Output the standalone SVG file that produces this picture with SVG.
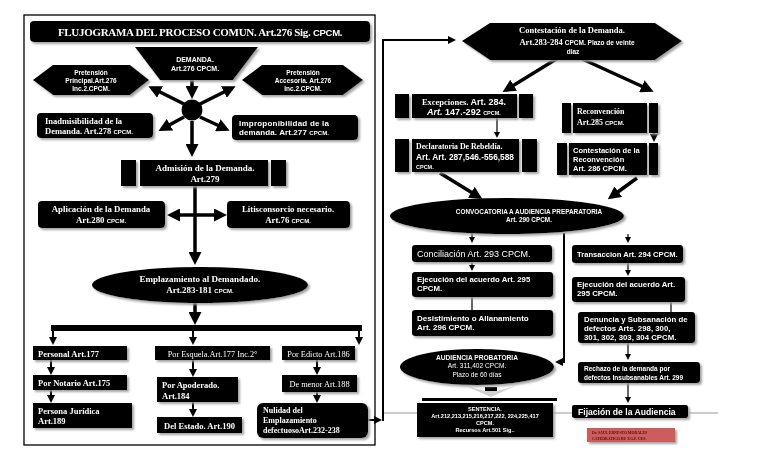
<svg xmlns="http://www.w3.org/2000/svg" width="768" height="466" viewBox="0 0 768 466">
<style>
.b{fill:#000}
.t{fill:#fff;font-family:"Liberation Serif","Times New Roman",serif;font-weight:bold}
.tn{fill:#fff;font-family:"Liberation Serif","Times New Roman",serif}
.s{fill:#fff;font-family:"Liberation Sans",Arial,sans-serif;font-weight:bold}
.sn{fill:#fff;font-family:"Liberation Sans",Arial,sans-serif}
.c{text-anchor:middle}
.sm{font-family:"Liberation Sans",Arial,sans-serif;font-weight:bold;font-size:6px}
.k{stroke:#000;stroke-width:3.5;fill:none}
.m{stroke:#000;stroke-width:2;fill:none}
.n{stroke:#000;stroke-width:1.2;fill:none}
.g{stroke:#999;stroke-width:1;fill:none}
</style>
<defs>
<filter id="sh" x="-10%" y="-20%" width="130%" height="150%">
<feDropShadow dx="2" dy="2" stdDeviation="0.8" flood-color="#9a9a9a" flood-opacity="0.9"/>
</filter>
<marker id="ak" markerUnits="userSpaceOnUse" markerWidth="13" markerHeight="13" refX="9" refY="6.5" orient="auto-start-reverse"><path d="M0,0 L13,6.5 L0,13 z" fill="#000"/></marker>
<marker id="am" markerUnits="userSpaceOnUse" markerWidth="8" markerHeight="8" refX="5" refY="4" orient="auto"><path d="M0,0 L8,4 L0,8 z" fill="#000"/></marker>
<marker id="an" markerUnits="userSpaceOnUse" markerWidth="6" markerHeight="6" refX="4" refY="3" orient="auto"><path d="M0,0 L6,3 L0,6 z" fill="#000"/></marker>
</defs>
<rect width="768" height="466" fill="#fff"/>
<rect x="24" y="15" width="351" height="430" fill="none" stroke="#000" stroke-width="1.3"/>
<line class="g" x1="384" y1="413" x2="718" y2="413"/>

<g id="connectors">
<line class="k" x1="192" y1="80" x2="192" y2="95" marker-end="url(#ak)"/>
<line class="k" x1="184" y1="104" x2="152" y2="88" marker-end="url(#ak)"/>
<line class="k" x1="200" y1="104" x2="232" y2="88" marker-end="url(#ak)"/>
<line class="k" x1="184" y1="117" x2="162" y2="129" marker-end="url(#ak)"/>
<line class="k" x1="200" y1="117" x2="226" y2="129" marker-end="url(#ak)"/>
<line class="k" x1="192" y1="121" x2="192" y2="153" marker-end="url(#ak)"/>
<line class="k" x1="195" y1="186" x2="195" y2="261" marker-end="url(#ak)"/>
<line class="k" x1="171" y1="215" x2="223" y2="215" marker-start="url(#ak)" marker-end="url(#ak)"/>
<line class="k" x1="195" y1="303" x2="195" y2="321" marker-end="url(#ak)"/>
<rect x="51" y="325" width="311" height="6" fill="#000"/>
<line class="m" x1="53" y1="331" x2="53" y2="342" marker-end="url(#am)"/>
<line class="m" x1="193" y1="331" x2="193" y2="342" marker-end="url(#am)"/>
<line class="m" x1="359" y1="331" x2="359" y2="342" marker-end="url(#am)"/>
<line class="m" x1="51" y1="360" x2="51" y2="372" marker-end="url(#am)"/>
<line class="m" x1="51" y1="390" x2="51" y2="400" marker-end="url(#am)"/>
<line class="m" x1="193" y1="360" x2="193" y2="374" marker-end="url(#am)"/>
<line class="m" x1="193" y1="402" x2="193" y2="414" marker-end="url(#am)"/>
<line class="m" x1="317" y1="360" x2="317" y2="372" marker-end="url(#am)"/>
<line class="m" x1="317" y1="392" x2="317" y2="400" marker-end="url(#am)"/>
<line class="m" x1="368" y1="420" x2="379" y2="420" marker-end="url(#am)"/>
<polyline class="m" points="383,421 383,40 453,40" marker-end="url(#am)"/>
<line class="k" x1="558" y1="58" x2="506" y2="90" marker-end="url(#ak)"/>
<line class="k" x1="580" y1="58" x2="650" y2="90" marker-end="url(#ak)"/>
<line class="n" x1="497" y1="118" x2="497" y2="136" marker-end="url(#an)"/>
<line class="m" x1="654" y1="133" x2="654" y2="139" marker-end="url(#am)"/>
<line class="k" x1="440" y1="173" x2="479" y2="197" marker-end="url(#ak)"/>
<line class="k" x1="637" y1="178" x2="611" y2="197" marker-end="url(#ak)"/>
<line class="n" x1="472" y1="233" x2="472" y2="241" marker-end="url(#an)"/>
<line class="n" x1="628" y1="234" x2="628" y2="241" marker-end="url(#an)"/>
<polyline class="m" points="564,233 564,362 558,362" marker-end="url(#am)"/>
<line class="n" x1="472" y1="262" x2="472" y2="269" marker-end="url(#an)"/>
<line class="n" x1="472" y1="297" x2="472" y2="310"/>
<line class="n" x1="628" y1="263" x2="628" y2="274" marker-end="url(#an)"/>
<line class="n" x1="671" y1="302" x2="671" y2="312"/>
<line class="n" x1="628" y1="343" x2="628" y2="358" marker-end="url(#an)"/>
<line class="n" x1="628" y1="383" x2="628" y2="401" marker-end="url(#an)"/>
<rect x="485" y="387" width="12" height="5" fill="#000"/>
<polygon points="466,386 485,391 497,391 515,386 491,397" fill="#d0d0d0"/>
<rect x="422" y="398" width="135" height="3" fill="#000"/>
</g>

<g id="titulo" filter="url(#sh)">
<rect class="b" x="30" y="21" width="340" height="21" rx="4"/>
<text class="t c" x="200" y="36" font-size="11" letter-spacing="-0.3">FLUJOGRAMA DEL PROCESO COMUN. Art.276 Sig. <tspan font-family="Liberation Sans,Arial,sans-serif" font-size="9.5">CPCM.</tspan></text>
</g>
<g id="demanda" filter="url(#sh)">
<polygon class="b" points="135,47 258,47 233,80 160,80"/>
<text class="s c" x="195" y="62" font-size="7">DEMANDA.</text>
<text class="s c" x="195" y="71" font-size="7">Art.276 CPCM.</text>
</g>
<g id="pretension-principal" filter="url(#sh)">
<polygon class="b" points="33,80 53,65 130,65 149,80 130,95 53,95"/>
<text class="s c" x="91" y="75" font-size="6.5">Pretensión</text>
<text class="s c" x="91" y="83" font-size="6.5">Principal.Art.276</text>
<text class="s c" x="91" y="91" font-size="6.5">Inc.2.CPCM.</text>
</g>
<g id="pretension-accesoria" filter="url(#sh)">
<polygon class="b" points="242,80 262,65 343,65 363,80 343,95 262,95"/>
<text class="s c" x="303" y="75" font-size="6.5">Pretensión</text>
<text class="s c" x="303" y="83" font-size="6.5">Accesoria. Art.276</text>
<text class="s c" x="303" y="91" font-size="6.5">Inc.2.CPCM.</text>
</g>
<g id="nodo-central">
<circle cx="192" cy="110" r="10.5" fill="#000"/>
</g>
<g id="inadmisibilidad" filter="url(#sh)">
<rect class="b" x="37" y="113" width="116" height="25" rx="4"/>
<text class="t" x="45" y="123.5" font-size="8.5">Inadmisibilidad de la</text>
<text class="t" x="45" y="133.5" font-size="8.5">Demanda. Art.278 <tspan class="sm">CPCM.</tspan></text>
</g>
<g id="improponibilidad" filter="url(#sh)">
<rect class="b" x="232" y="115" width="126" height="25" rx="4"/>
<text class="s" x="239" y="125.5" font-size="8" textLength="90">Improponibilidad de la</text>
<text class="s" x="239" y="134.5" font-size="8" textLength="90">demanda. Art.277 <tspan font-size="6">CPCM.</tspan></text>
</g>
<g id="admision" filter="url(#sh)">
<rect class="b" x="121" y="160" width="15" height="26"/>
<rect class="b" x="140" y="160" width="128" height="26"/>
<rect class="b" x="271" y="160" width="15" height="26"/>
<text class="t c" x="205" y="171" font-size="9">Admisión de la Demanda.</text>
<text class="t c" x="205" y="182" font-size="9">Art.279</text>
</g>
<g id="aplicacion" filter="url(#sh)">
<rect class="b" x="38" y="201" width="127" height="27" rx="4"/>
<text class="t c" x="101" y="212" font-size="8.8">Aplicación de la Demanda</text>
<text class="t c" x="101" y="223" font-size="8.8">Art.280 <tspan class="sm">CPCM.</tspan></text>
</g>
<g id="litisconsorcio" filter="url(#sh)">
<rect class="b" x="227" y="201" width="123" height="27" rx="4"/>
<text class="t c" x="288" y="212" font-size="8.8">Litisconsorcio necesario.</text>
<text class="t c" x="288" y="223" font-size="8.8">Art.76 <tspan class="sm">CPCM.</tspan></text>
</g>
<g id="emplazamiento" filter="url(#sh)">
<ellipse cx="200" cy="285" rx="108" ry="18" fill="#000"/>
<text class="t c" x="200" y="282" font-size="9">Emplazamiento al Demandado.</text>
<text class="t c" x="200" y="293" font-size="9">Art.283-181 <tspan class="sm">CPCM.</tspan></text>
</g>
<g id="personal" filter="url(#sh)">
<rect class="b" x="33" y="346" width="94" height="14"/>
<text class="t" x="38" y="356.5" font-size="8.5">Personal Art.177</text>
</g>
<g id="notario" filter="url(#sh)">
<rect class="b" x="33" y="375" width="94" height="15"/>
<text class="t" x="38" y="386" font-size="8.5">Por Notario Art.175</text>
</g>
<g id="persona-juridica" filter="url(#sh)">
<rect class="b" x="33" y="403" width="99" height="25"/>
<text class="t" x="38" y="414" font-size="8.5">Persona Jurídica</text>
<text class="t" x="38" y="424" font-size="8.5">Art.189</text>
</g>
<g id="esquela" filter="url(#sh)">
<rect class="b" x="155" y="346" width="115" height="14"/>
<text class="tn c" x="212.5" y="356.5" font-size="8.3">Por Esquela.Art.177 Inc.2°</text>
</g>
<g id="apoderado" filter="url(#sh)">
<rect class="b" x="157" y="377" width="81" height="25"/>
<text class="t" x="162" y="388" font-size="8.5">Por Apoderado.</text>
<text class="t" x="162" y="399" font-size="8.5">Art.184</text>
</g>
<g id="estado" filter="url(#sh)">
<rect class="b" x="157" y="417" width="85" height="16"/>
<text class="t c" x="199.5" y="428.5" font-size="8.5">Del Estado. Art.190</text>
</g>
<g id="edicto" filter="url(#sh)">
<rect class="b" x="282" y="346" width="73" height="14"/>
<text class="tn c" x="318.5" y="356.5" font-size="8.3">Por Edicto Art.186</text>
</g>
<g id="menor" filter="url(#sh)">
<rect class="b" x="282" y="375" width="75" height="17"/>
<text class="tn c" x="319.5" y="386.5" font-size="8.3">De menor Art.188</text>
</g>
<g id="nulidad" filter="url(#sh)">
<rect class="b" x="257" y="403" width="111" height="35" rx="6"/>
<text class="t" x="263" y="413" font-size="8">Nulidad del</text>
<text class="t" x="263" y="423" font-size="8">Emplazamiento</text>
<text class="t" x="263" y="433" font-size="8">defectuosoArt.232-238</text>
</g>

<g id="contestacion" filter="url(#sh)">
<polygon class="b" points="462,41 490,23 655,23 682,41 655,60 490,60"/>
<text class="t c" x="572" y="33" font-size="8.5">Contestación de la Demanda.</text>
<text class="t c" x="577" y="45" font-size="8.5">Art.283-284 <tspan font-family="Liberation Sans,Arial,sans-serif" font-size="6.5">CPCM. Plazo de veinte</tspan></text>
<text class="s c" x="573" y="54" font-size="6.5">diaz</text>
</g>
<g id="excepciones" filter="url(#sh)">
<rect class="b" x="395" y="94" width="14" height="24"/>
<rect class="b" x="412" y="94" width="105" height="24"/>
<rect class="b" x="519" y="94" width="14" height="24"/>
<text class="t c" x="464" y="104.5" font-size="8.5">Excepciones. <tspan font-family="Liberation Sans,Arial,sans-serif" font-size="9">Art. 284.</tspan></text>
<text class="s c" x="464" y="115" font-size="9"><tspan font-style="italic">Art.</tspan> 147.-292   <tspan font-size="5.5">CPCM.</tspan></text>
</g>
<g id="declaratoria" filter="url(#sh)">
<rect class="b" x="395" y="139" width="14" height="33"/>
<rect class="b" x="412" y="139" width="107" height="33"/>
<rect class="b" x="522" y="139" width="15" height="33"/>
<text class="t" x="416" y="149" font-size="7.8">Declaratoria De Rebeldía.</text>
<text class="s" x="416" y="159.5" font-size="8.3">Art. Art. 287,546.-556,588</text>
<text class="s" x="416" y="168.5" font-size="5.5">CPCM.</text>
</g>
<g id="reconvencion" filter="url(#sh)">
<rect class="b" x="562" y="103" width="9" height="30"/>
<rect class="b" x="573" y="103" width="74" height="30"/>
<rect class="b" x="649" y="103" width="9" height="30"/>
<text class="t" x="577" y="114" font-size="8">Reconvención</text>
<text class="t" x="577" y="125" font-size="8">Art.285 <tspan class="sm">CPCM.</tspan></text>
</g>
<g id="contestacion-reconvencion" filter="url(#sh)">
<rect class="b" x="557" y="143" width="10" height="32"/>
<rect class="b" x="569" y="143" width="78" height="32"/>
<rect class="b" x="649" y="143" width="9" height="32"/>
<text class="s" x="573" y="152.5" font-size="7.5">Contestación de la</text>
<text class="s" x="573" y="161.5" font-size="7.5">Reconvención</text>
<text class="s" x="573" y="170.5" font-size="7.5">Art. 286 CPCM.</text>
</g>
<g id="convocatoria" filter="url(#sh)">
<ellipse cx="507" cy="216" rx="117" ry="18" fill="#000"/>
<text class="s c" x="529" y="214" font-size="6.4">CONVOCATORIA A AUDIENCIA PREPARATORIA</text>
<text class="s c" x="529" y="222" font-size="6.4">Art. 290 CPCM.</text>
</g>
<g id="conciliacion" filter="url(#sh)">
<rect class="b" x="412" y="245" width="140" height="17" rx="3"/>
<text class="sn" x="417" y="257" font-size="9">Conciliación Art. 293  CPCM.</text>
</g>
<g id="ejecucion-1" filter="url(#sh)">
<rect class="b" x="412" y="272" width="141" height="25" rx="3"/>
<text class="s" x="417" y="282" font-size="7.8">Ejecución del acuerdo Art. 295</text>
<text class="s" x="417" y="291" font-size="7.8">CPCM.</text>
</g>
<g id="desistimiento" filter="url(#sh)">
<rect class="b" x="412" y="310" width="141" height="26" rx="3"/>
<text class="s" x="417" y="320.5" font-size="8">Desistimiento o Allanamiento</text>
<text class="s" x="417" y="330" font-size="8">Art. 296 CPCM.</text>
</g>
<g id="transaccion" filter="url(#sh)">
<rect class="b" x="572" y="245" width="111" height="18" rx="3"/>
<text class="s" x="577" y="257" font-size="7.6">Transaccion Art. 294 CPCM.</text>
</g>
<g id="ejecucion-2" filter="url(#sh)">
<rect class="b" x="572" y="277" width="113" height="25" rx="3"/>
<text class="s" x="577" y="287" font-size="7.8">Ejecución del acuerdo  Art.</text>
<text class="s" x="577" y="296" font-size="7.8">295 CPCM.</text>
</g>
<g id="denuncia" filter="url(#sh)">
<rect class="b" x="578" y="312" width="117" height="31" rx="3"/>
<text class="s" x="584" y="321.5" font-size="7.8">Denuncia y Subsanación de</text>
<text class="s" x="584" y="330.5" font-size="7.8">defectos  Arts. 298, 300,</text>
<text class="s" x="584" y="339.5" font-size="7.8">301, 302, 303, 304 CPCM.</text>
</g>
<g id="rechazo" filter="url(#sh)">
<rect class="b" x="578" y="362" width="122" height="21" rx="3"/>
<text class="s" x="584" y="371" font-size="6.5">Rechazo de la demanda por</text>
<text class="s" x="584" y="380" font-size="6.5">defectos  Insubsanables Art. 299</text>
</g>
<g id="fijacion" filter="url(#sh)">
<rect class="b" x="572" y="405" width="116" height="13" rx="2"/>
<text class="s" x="578" y="414.5" font-size="8.6">Fijación de la Audiencia</text>
</g>
<g id="audiencia-probatoria" filter="url(#sh)">
<ellipse cx="477" cy="367" rx="77" ry="18" fill="#000"/>
<text class="s c" x="477" y="359.5" font-size="6.6">AUDIENCIA PROBATORIA</text>
<text class="sn c" x="477" y="368" font-size="6.6">Art. 311,402 CPCM.</text>
<text class="sn c" x="477" y="377" font-size="6.6">Plazo de 60 días</text>
</g>
<g id="sentencia" filter="url(#sh)">
<rect class="b" x="417" y="403" width="136" height="34"/>
<text class="s c" x="485" y="411" font-size="5.6">SENTENCIA.</text>
<text class="s c" x="485" y="418" font-size="5.6">Art.212,213,215,216,217,222, 224,225,417</text>
<text class="s c" x="485" y="425" font-size="5.6">CPCM.</text>
<text class="s c" x="485" y="432" font-size="5.6">Recursos Art.501 Sig..</text>
</g>
<g id="autor" filter="url(#sh)">
<rect x="587" y="428" width="88" height="14" fill="#cd5c5c"/>
<text x="592" y="434" font-family="Liberation Serif,serif" font-weight="bold" font-size="3.8" fill="#5a0a0a">Dr. SAUL ERNESTO MORALES</text>
<text x="592" y="439.5" font-family="Liberation Serif,serif" font-weight="bold" font-size="3.8" fill="#5a0a0a">CATEDRATICO DE T.G.P. UES.</text>
</g>
</svg>
